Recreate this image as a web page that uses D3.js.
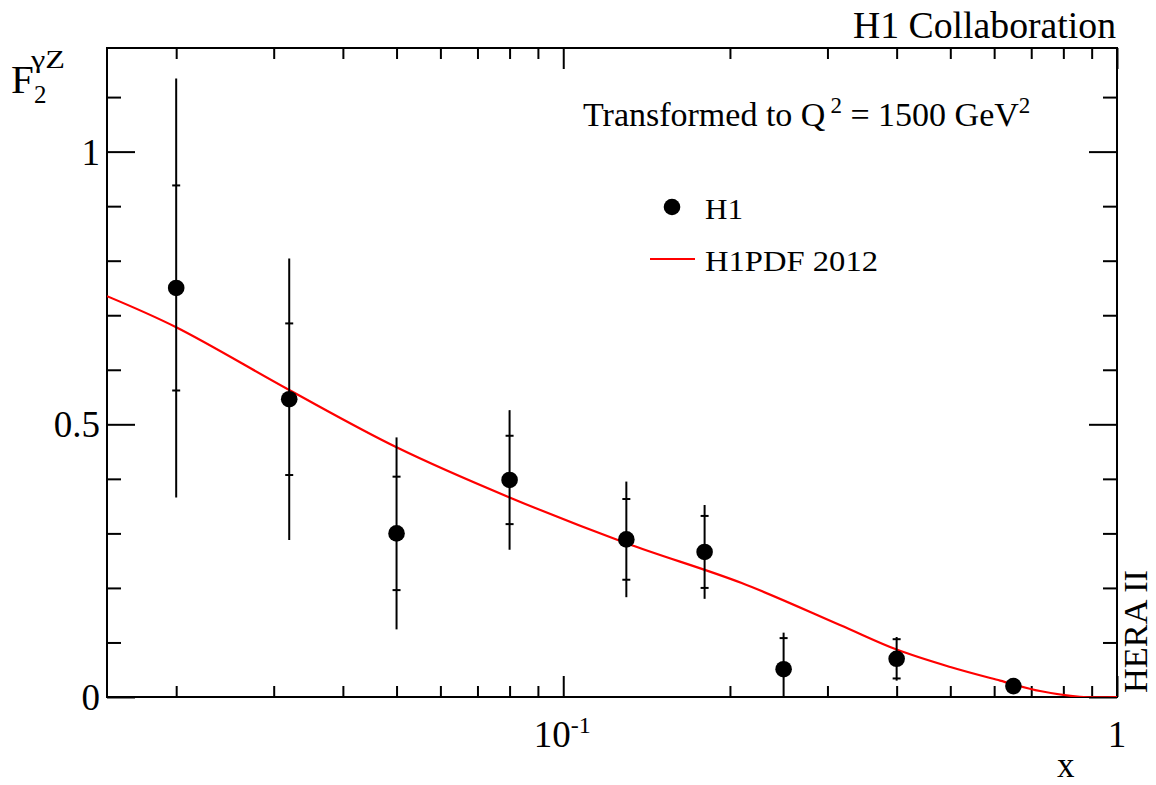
<!DOCTYPE html>
<html>
<head>
<meta charset="utf-8">
<script src="https://cdn.jsdelivr.net/npm/d3@7"></script>
<style>
  html, body { margin: 0; padding: 0; background: #fff; }
  svg { display: block; }
  text { font-family: "Liberation Serif", "DejaVu Serif", serif; fill: #000; }
</style>
</head>
<body>
<svg id="chart" width="1156" height="785"></svg>
<script>
// ---------------- data ----------------
const xPoints   = [0.02, 0.032, 0.05, 0.08, 0.13, 0.18, 0.25, 0.40, 0.65];
const f2Values  = [0.750, 0.546, 0.300, 0.398, 0.289, 0.266, 0.051, 0.070, 0.020];
const statErr   = [0.188, 0.139, 0.104, 0.081, 0.074, 0.066, 0.057, 0.036, 0.008];
const totalErr  = [0.384, 0.258, 0.176, 0.128, 0.106, 0.086, 0.067, 0.040, 0.010];

const curveX = [0.015, 0.02, 0.032, 0.05, 0.08, 0.13, 0.21, 0.316, 0.40, 0.50, 0.615, 0.726, 0.857, 1.0];
const curveY = [0.735, 0.678, 0.563, 0.458, 0.366, 0.282, 0.209, 0.132, 0.087, 0.055, 0.030, 0.011, 0.0005, 0.0];

const yMajorTicks = [0, 0.5, 1];
const yMinorTicks = [0.1, 0.2, 0.3, 0.4, 0.6, 0.7, 0.8, 0.9, 1.1];
const xMajorTicks = [0.1, 1];
const xMinorTicks = [0.02, 0.03, 0.04, 0.05, 0.06, 0.07, 0.08, 0.09, 0.2, 0.3, 0.4, 0.5, 0.6, 0.7, 0.8, 0.9];
const yTickLabels = ["0", "0.5", "1"];

// ---------------- layout ----------------
const L = 107, R = 1117, T = 48, B = 697;
const FONT = '"Liberation Serif", "DejaVu Serif", serif';

const svg = d3.select("#chart");
const x = d3.scaleLog().domain([0.015, 1]).range([L, R]);
const y = d3.scaleLinear().domain([0, 1.19]).range([B, T]);

svg.append("defs").append("clipPath").attr("id", "plotclip")
  .append("rect").attr("x", L).attr("y", T).attr("width", R - L).attr("height", B - T);

function styleAxis(g) {
  g.select(".domain").remove();
  g.selectAll(".tick line").attr("stroke", "#000").attr("stroke-width", 2);
  g.selectAll("text").attr("font-family", FONT).attr("fill", "#000");
}

// Left axis: major with labels, minor ticks
svg.append("g").attr("transform", `translate(${L},0)`)
  .call(d3.axisLeft(y).tickValues(yMajorTicks).tickSizeInner(-28).tickSizeOuter(0).tickPadding(7)
        .tickFormat((d, i) => yTickLabels[i]))
  .call(styleAxis)
  .call(g => g.selectAll("text").attr("font-size", 37).attr("dy", "0.34em"));
svg.append("g").attr("transform", `translate(${L},0)`)
  .call(d3.axisLeft(y).tickValues(yMinorTicks).tickSizeInner(-14).tickSizeOuter(0).tickFormat(""))
  .call(styleAxis);

// Right axis (mirrored ticks)
svg.append("g").attr("transform", `translate(${R},0)`)
  .call(d3.axisRight(y).tickValues(yMajorTicks).tickSizeInner(-28).tickSizeOuter(0).tickFormat(""))
  .call(styleAxis);
svg.append("g").attr("transform", `translate(${R},0)`)
  .call(d3.axisRight(y).tickValues(yMinorTicks).tickSizeInner(-14).tickSizeOuter(0).tickFormat(""))
  .call(styleAxis);

// Bottom axis
svg.append("g").attr("transform", `translate(0,${B})`)
  .call(d3.axisBottom(x).tickValues(xMajorTicks).tickSizeInner(-21).tickSizeOuter(0).tickFormat(""))
  .call(styleAxis);
svg.append("g").attr("transform", `translate(0,${B})`)
  .call(d3.axisBottom(x).tickValues(xMinorTicks).tickSizeInner(-11).tickSizeOuter(0).tickFormat(""))
  .call(styleAxis);
// Top axis
svg.append("g").attr("transform", `translate(0,${T})`)
  .call(d3.axisTop(x).tickValues(xMajorTicks).tickSizeInner(-21).tickSizeOuter(0).tickFormat(""))
  .call(styleAxis);
svg.append("g").attr("transform", `translate(0,${T})`)
  .call(d3.axisTop(x).tickValues(xMinorTicks).tickSizeInner(-11).tickSizeOuter(0).tickFormat(""))
  .call(styleAxis);

// Frame
svg.append("rect").attr("x", L).attr("y", T).attr("width", R - L).attr("height", B - T)
  .attr("fill", "none").attr("stroke", "#000").attr("stroke-width", 2);

// X tick labels
const lab01 = svg.append("text").attr("x", x(0.1) - 1).attr("y", 747)
  .attr("text-anchor", "middle").attr("font-size", 37);
lab01.append("tspan").text("10");
lab01.append("tspan").attr("font-size", 24).attr("dy", -14).text("-1");
svg.append("text").attr("x", x(1)).attr("y", 747).attr("text-anchor", "middle")
  .attr("font-size", 37).text("1");

// ---------------- plot content ----------------
const plot = svg.append("g").attr("clip-path", "url(#plotclip)");

const curveData = curveX.map((v, i) => [v, curveY[i]]);
plot.append("path")
  .attr("d", d3.line().x(d => x(d[0])).y(d => y(d[1])).curve(d3.curveCatmullRom.alpha(0.5))(curveData))
  .attr("fill", "none").attr("stroke", "#ff0000").attr("stroke-width", 2.2);

const pts = xPoints.map((v, i) => ({ x: v, y: f2Values[i], s: statErr[i], t: totalErr[i] }));
const pg = plot.selectAll("g.pt").data(pts).enter().append("g").attr("class", "pt");
pg.append("line")
  .attr("x1", d => x(d.x)).attr("x2", d => x(d.x))
  .attr("y1", d => y(d.y + d.t)).attr("y2", d => y(d.y - d.t))
  .attr("stroke", "#000").attr("stroke-width", 2);
[1, -1].forEach(sg => {
  pg.append("line")
    .attr("x1", d => x(d.x) - 4).attr("x2", d => x(d.x) + 4)
    .attr("y1", d => y(d.y + sg * d.s)).attr("y2", d => y(d.y + sg * d.s))
    .attr("stroke", "#000").attr("stroke-width", 2);
});
pg.append("circle").attr("cx", d => x(d.x)).attr("cy", d => y(d.y)).attr("r", 8.3).attr("fill", "#000");

// ---------------- texts ----------------
svg.append("text").attr("x", 1116).attr("y", 38).attr("text-anchor", "end")
  .attr("font-size", 37).attr("textLength", 263).attr("lengthAdjust", "spacingAndGlyphs")
  .text("H1 Collaboration");

// Y title F_2^{γZ}
svg.append("text").attr("x", 11).attr("y", 93).attr("font-size", 41).text("F");
svg.append("text").attr("x", 31).attr("y", 68).attr("font-size", 25)
  .attr("textLength", 34).attr("lengthAdjust", "spacingAndGlyphs").text("γZ");
svg.append("text").attr("x", 34).attr("y", 103).attr("font-size", 25).text("2");

// Transformed text
const tt = svg.append("text").attr("x", 583).attr("y", 126).attr("font-size", 34);
tt.append("tspan").text("Transformed to Q");
tt.append("tspan").attr("dx", 5).attr("dy", -13).attr("font-size", 23).text("2");
tt.append("tspan").attr("dy", 13).text(" = 1500 GeV");
tt.append("tspan").attr("dy", -13).attr("font-size", 23).text("2");

// Legend
svg.append("circle").attr("cx", 672).attr("cy", 207).attr("r", 8.3).attr("fill", "#000");
svg.append("text").attr("x", 705).attr("y", 219).attr("font-size", 29)
  .attr("textLength", 38).attr("lengthAdjust", "spacingAndGlyphs").text("H1");
svg.append("line").attr("x1", 650).attr("x2", 695).attr("y1", 259).attr("y2", 259)
  .attr("stroke", "#ff0000").attr("stroke-width", 2);
svg.append("text").attr("x", 705).attr("y", 271).attr("font-size", 29)
  .attr("textLength", 173).attr("lengthAdjust", "spacingAndGlyphs").text("H1PDF 2012");

// Axis title x
svg.append("text").attr("x", 1057).attr("y", 777).attr("font-size", 35).text("x");

// HERA II
svg.append("text").attr("transform", "translate(1147,693) rotate(-90)")
  .attr("font-size", 34).attr("textLength", 123).attr("lengthAdjust", "spacingAndGlyphs")
  .text("HERA II");
</script>
</body>
</html>
